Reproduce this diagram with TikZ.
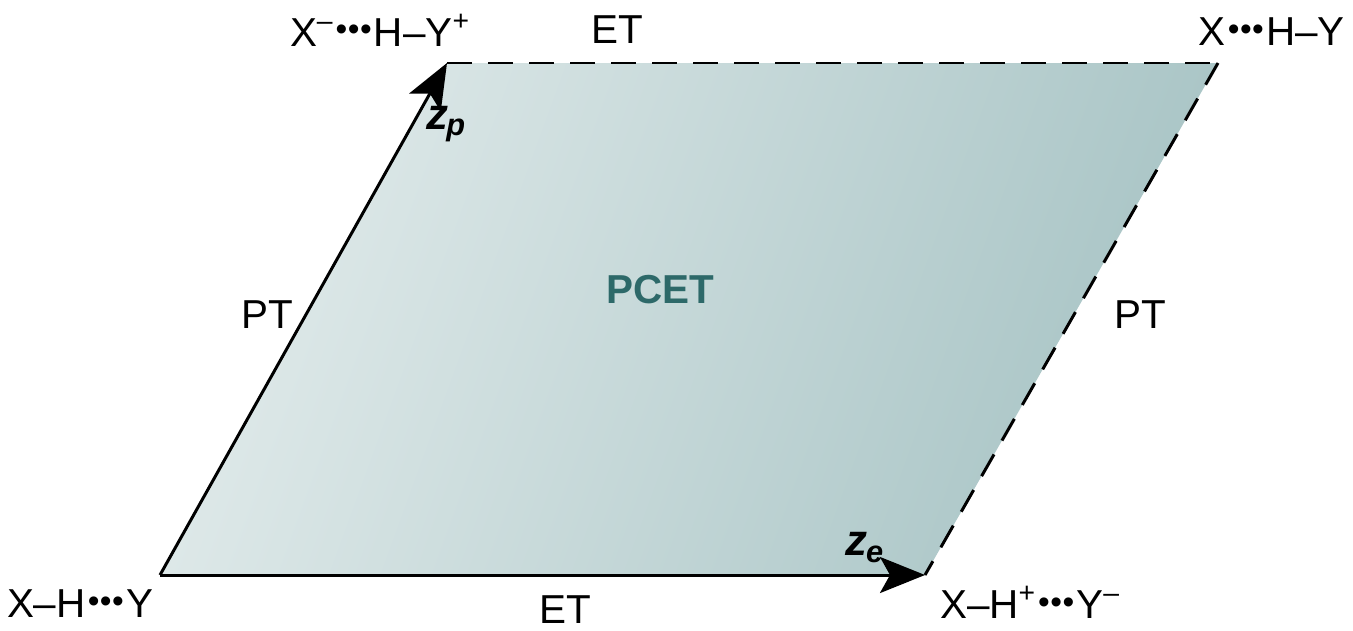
\documentclass[tikz,border=0pt]{standalone}
\usepackage{fontspec}
\setmainfont{Liberation Sans}
\usepackage{xcolor}
\usetikzlibrary{positioning, arrows.meta}
\definecolor{PlaneLight}{RGB}{224,234,234}
\definecolor{PlaneDark}{RGB}{168,196,197}
\definecolor{PCETTeal}{RGB}{45,105,105}
% hydrogen-bond dots
\newcommand{\hbd}{\kern1.2pt\raisebox{0.25ex}{\fontsize{19}{19}\selectfont
  •\kern0.3pt•\kern0.3pt•}\kern1.2pt}

\begin{document}
\begin{tikzpicture}[
          lbl/.style={font=\fontsize{23}{27}\selectfont, inner sep=0pt},
          zlbl/.style={font=\fontsize{25}{29}\selectfont\bfseries\itshape, inner sep=0pt},
          arr/.style={-{Stealth[length=0.9cm, width=0.72cm, inset=0.2cm]}, line width=1.7pt},
          dsh/.style={dash pattern=on 0.5cm off 0.32cm, line width=1.7pt}
        ]
        \useasboundingbox (0,0) rectangle (27.06,12.6);

        % corners of the plane
        \coordinate (rea) at (3.2, 1.1);
        \coordinate (et)  at (18.5, 1.1);
        \coordinate (pt)  at (8.94, 11.34);
        \coordinate (prd) at (24.36, 11.34);

        % shaded plane
        \shade[left color=PlaneLight, right color=PlaneDark, shading angle=70]
              (rea) -- (et) -- (prd) -- (pt) -- cycle;

        % edges
        \draw[arr] (rea) -- (pt);
        \draw[arr] (rea) -- (et);
        \draw[dsh] (pt) -- (prd);
        \draw[dsh] (prd) -- (et);

        % states
        \node[lbl] (sRea) at (1.6, 0.52) {X–H\hbd Y};
        \node[lbl] (sPt)  at (7.6, 12.0)
              {X\textsuperscript{–}\hbd H–Y\textsuperscript{+}};
        \node[lbl, anchor=east] (sPrd) at (26.9, 11.96) {X\hbd H–Y};
        \node[lbl] (sEt)  at (20.6, 0.55)
              {X–H\textsuperscript{+}\hbd Y\textsuperscript{–}};

        % transfer labels
        \node[lbl] (etTop) at (12.34, 12.0) {ET};
        \node[lbl] (etBot) at (11.3, 0.4) {ET};
        \node[lbl] (ptL)   at (5.35, 6.3) {PT};
        \node[lbl] (ptR)   at (22.8, 6.3) {PT};
        \node[lbl, font=\fontsize{23}{27}\selectfont\bfseries, text=PCETTeal]
              (pcet) at (13.2, 6.8) {PCET};

        % coordinates
        \node[zlbl] (zp) at (8.92, 10.12) {z\textsubscript{\kern-1pt p}};
        \node[zlbl] (ze) at (17.3, 1.65) {z\textsubscript{\kern-1pt e}};
      \end{tikzpicture}
\end{document}
